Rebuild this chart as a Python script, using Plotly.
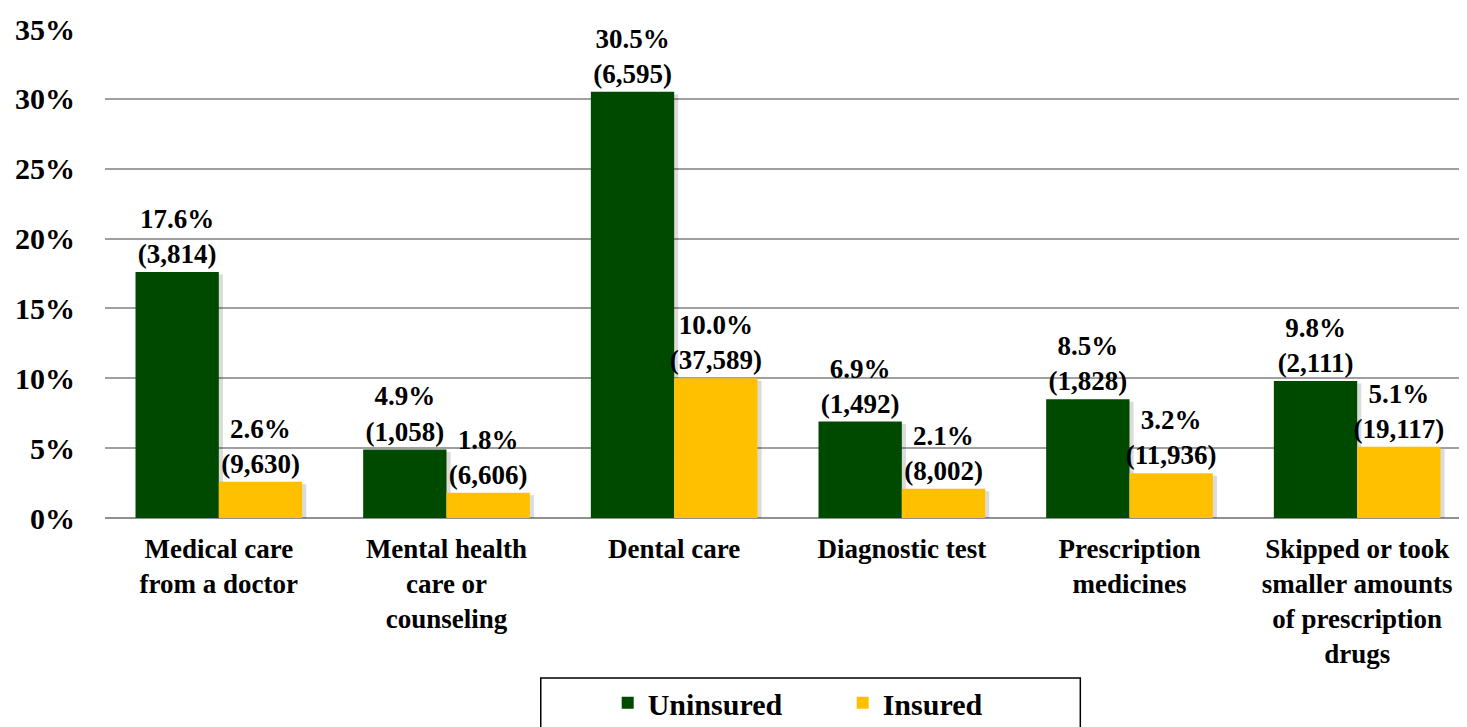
import plotly.graph_objects as go

categories = [
    "Medical care<br>from a doctor",
    "Mental health<br>care or<br>counseling",
    "Dental care",
    "Diagnostic test",
    "Prescription<br>medicines",
    "Skipped or took<br>smaller amounts<br>of prescription<br>drugs",
]
uninsured_pct = [17.6, 4.9, 30.5, 6.9, 8.5, 9.8]
uninsured_n = ["3,814", "1,058", "6,595", "1,492", "1,828", "2,111"]
insured_pct = [2.6, 1.8, 10.0, 2.1, 3.2, 5.1]
insured_n = ["9,630", "6,606", "37,589", "8,002", "11,936", "19,117"]
y_ticks = [0, 5, 10, 15, 20, 25, 30, 35]
y_tick_labels = ["0%", "5%", "10%", "15%", "20%", "25%", "30%", "35%"]

GREEN = "#004A00"
YELLOW = "#FFC000"
FONT = "Liberation Serif"
BW = 0.366

fig = go.Figure()

# soft drop shadows
for vals, off in [(uninsured_pct, -BW), (insured_pct, 0.0)]:
    fig.add_trace(go.Bar(
        x=categories, y=vals, base=-0.18, offset=off + 0.018, width=BW,
        marker=dict(color="rgba(0,0,0,0.14)", line=dict(width=0)),
        showlegend=False, hoverinfo="skip", cliponaxis=False,
    ))

fig.add_trace(go.Bar(
    name="Uninsured", x=categories, y=uninsured_pct, offset=-BW, width=BW,
    marker=dict(color=GREEN, line=dict(width=0)),
    text=[f"{p:.1f}%<br>({n})" for p, n in zip(uninsured_pct, uninsured_n)],
    textposition="outside", constraintext="none", cliponaxis=False,
    textfont=dict(family=FONT, size=27, color="black", weight="bold"),
))
fig.add_trace(go.Bar(
    name="Insured", x=categories, y=insured_pct, offset=0.0, width=BW,
    marker=dict(color=YELLOW, line=dict(width=0)),
    text=[f"{p:.1f}%<br>({n})" for p, n in zip(insured_pct, insured_n)],
    textposition="outside", constraintext="none", cliponaxis=False,
    textfont=dict(family=FONT, size=27, color="black", weight="bold"),
))

fig.update_layout(
    width=1467, height=727,
    margin=dict(l=97, r=4, t=21, b=217, autoexpand=False),
    paper_bgcolor="white", plot_bgcolor="white",
    font=dict(family=FONT, color="black"),
    showlegend=True,
    legend=dict(
        orientation="h", x=0.368, xanchor="left", y=-0.378, yanchor="middle",
        font=dict(family=FONT, size=30, color="black", weight="bold"),
        entrywidth=190, entrywidthmode="pixels",
        bgcolor="rgba(0,0,0,0)", traceorder="normal",
    ),
    shapes=[dict(
        type="rect", xref="paper", yref="paper",
        x0=0.319, x1=0.714, y0=-0.50, y1=-0.327,
        line=dict(color="black", width=1.5), fillcolor="rgba(0,0,0,0)",
    )],
    xaxis=dict(
        tickfont=dict(family=FONT, size=27, color="black", weight="bold"),
        showgrid=False, ticks="", showline=False, ticklabelstandoff=12,
    ),
    yaxis=dict(
        range=[0, 35], tickvals=y_ticks, ticktext=y_tick_labels,
        tickfont=dict(family=FONT, size=30, color="black", weight="bold"),
        showgrid=True, gridcolor="#A0A0A0", gridwidth=1.5,
        zeroline=True, zerolinecolor="#909090", zerolinewidth=2,
        ticklabelstandoff=29, ticks="",
    ),
)

fig.write_html("out.html")
